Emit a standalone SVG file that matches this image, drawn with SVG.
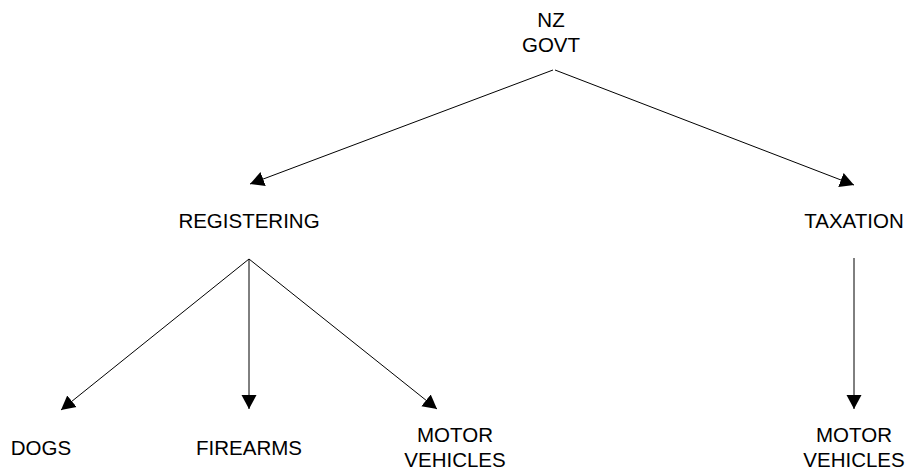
<svg xmlns="http://www.w3.org/2000/svg" width="908" height="471" viewBox="0 0 908 471">
<style>
.lbl{font-family:"Liberation Sans",Arial,sans-serif;font-size:20.5px;fill:#000;text-anchor:middle}
.edge{stroke:#000;stroke-width:1;fill:none;marker-end:url(#arr)}
</style>
<defs>
<marker id="arr" markerUnits="userSpaceOnUse" markerWidth="15" markerHeight="16" refX="14" refY="7.5" orient="auto" viewBox="0 0 15 15">
<path d="M0,0 L14,7.5 L0,15 z" fill="#000"/>
</marker>
</defs>
<rect width="908" height="471" fill="#fff"/>
<g id="connectors">
<line class="edge" x1="553" y1="70" x2="250" y2="184"/>
<line class="edge" x1="555" y1="70" x2="854" y2="185"/>
<line class="edge" x1="249" y1="259" x2="61" y2="410"/>
<line class="edge" x1="249" y1="259" x2="249" y2="409"/>
<line class="edge" x1="249" y1="259" x2="437" y2="409"/>
<line class="edge" x1="854" y1="258" x2="854" y2="409"/>
</g>
<g id="nzgovt"><text class="lbl" x="551" y="27">NZ</text><text class="lbl" x="551" y="52">GOVT</text></g>
<g id="registering"><text class="lbl" x="249" y="228">REGISTERING</text></g>
<g id="taxation"><text class="lbl" x="854" y="228">TAXATION</text></g>
<g id="dogs"><text class="lbl" x="41" y="455">DOGS</text></g>
<g id="firearms"><text class="lbl" x="249" y="455">FIREARMS</text></g>
<g id="motor1"><text class="lbl" x="455" y="442">MOTOR</text><text class="lbl" x="455" y="467">VEHICLES</text></g>
<g id="motor2"><text class="lbl" x="854" y="442">MOTOR</text><text class="lbl" x="854" y="467">VEHICLES</text></g>
</svg>
